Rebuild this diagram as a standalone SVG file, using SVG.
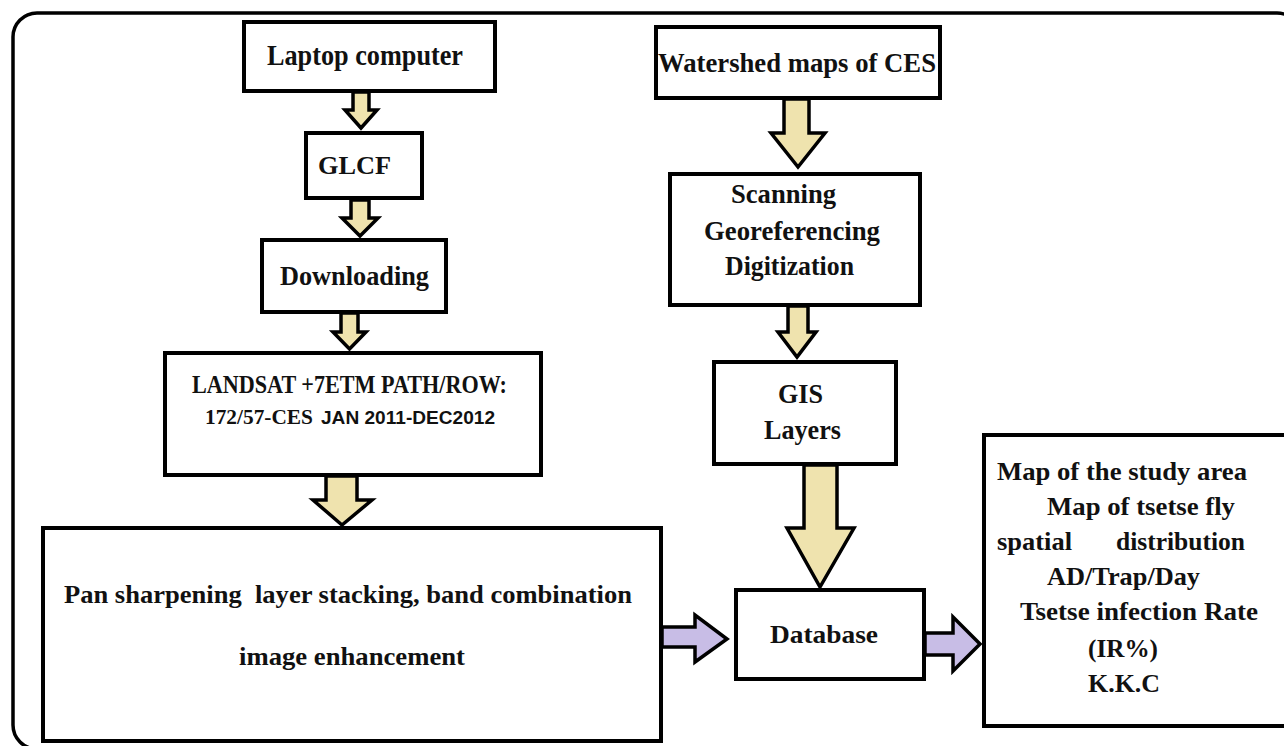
<svg xmlns="http://www.w3.org/2000/svg" width="1284" height="746" viewBox="0 0 1284 746">
<style>
.box{fill:#fff;stroke:#000;stroke-width:4}
.t{font-family:"Liberation Serif","Times New Roman",serif;font-weight:bold;fill:#111;lengthAdjust:spacingAndGlyphs}
.s{font-family:"Liberation Sans",Arial,sans-serif;font-weight:bold;fill:#111}
.tan{fill:#EFE3AE;stroke:#000;stroke-width:3.5;stroke-linejoin:miter}
.pur{fill:#C8BDE6;stroke:#000;stroke-width:3.5;stroke-linejoin:miter}
</style>
<rect width="1284" height="746" fill="#fff"/>
<rect x="13" y="13" width="1288" height="736" rx="24" fill="none" stroke="#000" stroke-width="3.5"/>

<g id="connectors">
<path class="tan" d="M353,92 L369,92 L369,110 L377,110 L361,128 L345,110 L353,110 Z"/>
<path class="tan" d="M351,200 L369,200 L369,218 L378,218 L360,236 L342,218 L351,218 Z"/>
<path class="tan" d="M341,313 L358,313 L358,332 L366,332 L349.5,349 L333,332 L341,332 Z"/>
<path class="tan" d="M326,476 L357,476 L357,500 L372,500 L342,525 L313,500 L326,500 Z"/>
<path class="tan" d="M784,99 L809,99 L809,133 L825,133 L798,167 L771,133 L784,133 Z"/>
<path class="tan" d="M788,306 L808,306 L808,332 L816,332 L797,357 L778,332 L788,332 Z"/>
<path class="tan" d="M804,465 L837,465 L837,528 L854,528 L820,587 L787,528 L804,528 Z"/>
<path class="pur" d="M662,627 L695,627 L695,615 L727,639 L695,662 L695,647 L662,647 Z"/>
<path class="pur" d="M925,633 L953,633 L953,617 L980,644 L953,671 L953,655 L925,655 Z"/>
</g>

<g id="laptop">
<rect class="box" x="244" y="22" width="251" height="69"/>
<text class="t" x="267" y="65" font-size="29" textLength="196" lengthAdjust="spacingAndGlyphs">Laptop computer</text>
</g>
<g id="glcf">
<rect class="box" x="306" y="133" width="116" height="65"/>
<text class="t" x="318" y="174" font-size="26" textLength="73" lengthAdjust="spacingAndGlyphs">GLCF</text>
</g>
<g id="downloading">
<rect class="box" x="262" y="240" width="184" height="72"/>
<text class="t" x="280" y="285" font-size="27" textLength="149" lengthAdjust="spacingAndGlyphs">Downloading</text>
</g>
<g id="landsat">
<rect class="box" x="165" y="353" width="376" height="122"/>
<text class="t" x="192" y="393" font-size="25" textLength="315" lengthAdjust="spacingAndGlyphs">LANDSAT +7ETM PATH/ROW:</text>
<text class="t" x="205" y="424" font-size="21" textLength="108" lengthAdjust="spacingAndGlyphs">172/57-CES</text>
<text class="s" x="321" y="424" font-size="19" textLength="174" lengthAdjust="spacingAndGlyphs">JAN 2011-DEC2012</text>
</g>
<g id="pan">
<rect class="box" x="43" y="528" width="618" height="213"/>
<text class="t" x="64" y="603" font-size="25" textLength="568" lengthAdjust="spacingAndGlyphs" xml:space="preserve">Pan sharpening  layer stacking, band combination</text>
<text class="t" x="239" y="665" font-size="25" textLength="226" lengthAdjust="spacingAndGlyphs">image enhancement</text>
</g>
<g id="watershed">
<rect class="box" x="656" y="27" width="284" height="71"/>
<text class="t" x="658" y="72" font-size="27" textLength="278" lengthAdjust="spacingAndGlyphs">Watershed maps of CES</text>
</g>
<g id="scanning">
<rect class="box" x="670" y="174" width="250" height="131"/>
<text class="t" x="731" y="203" font-size="27" textLength="105" lengthAdjust="spacingAndGlyphs">Scanning</text>
<text class="t" x="704" y="240" font-size="27" textLength="176" lengthAdjust="spacingAndGlyphs">Georeferencing</text>
<text class="t" x="725" y="275" font-size="27" textLength="129" lengthAdjust="spacingAndGlyphs">Digitization</text>
</g>
<g id="gis">
<rect class="box" x="714" y="362" width="182" height="102"/>
<text class="t" x="778" y="403" font-size="27" textLength="45" lengthAdjust="spacingAndGlyphs">GIS</text>
<text class="t" x="764" y="439" font-size="27" textLength="77" lengthAdjust="spacingAndGlyphs">Layers</text>
</g>
<g id="database">
<rect class="box" x="736" y="590" width="188" height="89"/>
<text class="t" x="770" y="643" font-size="25" textLength="108" lengthAdjust="spacingAndGlyphs">Database</text>
</g>
<g id="outputs">
<rect class="box" x="984" y="435" width="320" height="291"/>
<text class="t" x="997" y="480" font-size="25" textLength="250" lengthAdjust="spacingAndGlyphs">Map of the study area</text>
<text class="t" x="1047" y="515" font-size="25" textLength="188" lengthAdjust="spacingAndGlyphs">Map of tsetse fly</text>
<text class="t" y="550" font-size="25"><tspan x="997" textLength="75" lengthAdjust="spacingAndGlyphs">spatial</tspan> <tspan x="1116" textLength="129" lengthAdjust="spacingAndGlyphs">distribution</tspan></text>
<text class="t" x="1047" y="585" font-size="25" textLength="153" lengthAdjust="spacingAndGlyphs">AD/Trap/Day</text>
<text class="t" x="1020" y="620" font-size="25" textLength="238" lengthAdjust="spacingAndGlyphs">Tsetse infection Rate</text>
<text class="t" x="1088" y="657" font-size="25" textLength="70" lengthAdjust="spacingAndGlyphs">(IR%)</text>
<text class="t" x="1088" y="692" font-size="25" textLength="72" lengthAdjust="spacingAndGlyphs">K.K.C</text>
</g>
</svg>
